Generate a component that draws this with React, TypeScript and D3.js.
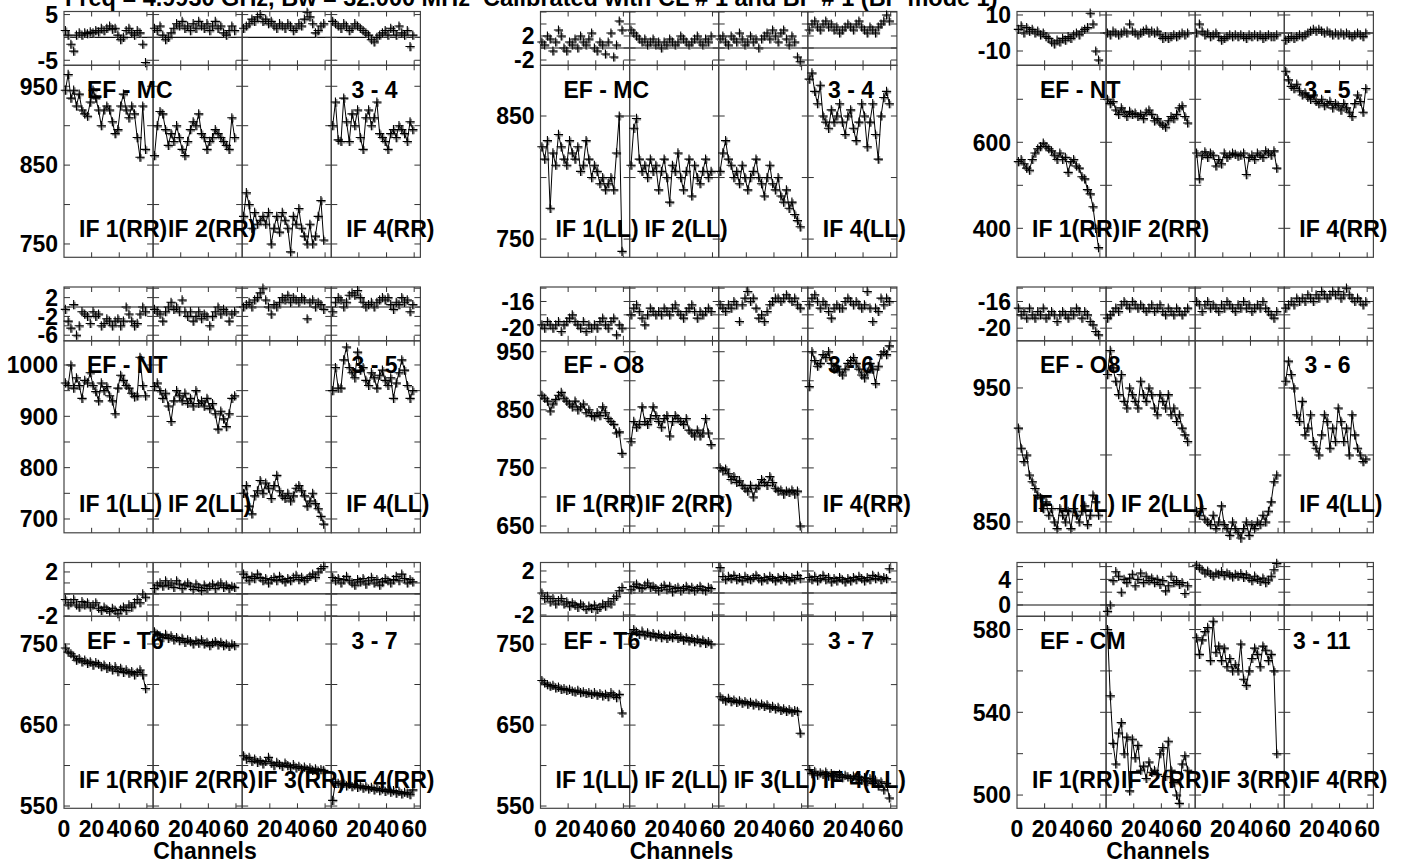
import React from "react";
import * as d3 from "d3";

const TITLE = "Freq = 4.9930 GHz, Bw = 32.000 MHz  Calibrated with CL # 1 and BP # 1 (BP mode 1)";
const CHANNELS = [1, 3, 5, 7, 9, 11, 13, 15, 17, 19, 21, 23, 25, 27, 29, 31, 33, 35, 37, 39, 41, 43, 45, 47, 49, 51, 53, 55, 57, 59];
const X_TICK_LABELS = [0, 20, 40, 60];

// ---- EF - MC (RR) ----
const MC_RR_PHASE = [
  [1.5, 0.5, -1.5, -3, 0.5, 1, 0.5, 1, 0.8, 1.2, 1, 1.5, 1.2, 2, 1.5, 2, 2.5, 1.8, 2, 0.5, -0.5, 0, 1.5, 2, 1, 0.5, 1.5, 1, -1.5, -5.5],
  [2, 1.5, 2.5, 0.5, -0.5, 0, 1, 2, 3, 2.5, 3.5, 2, 2.5, 1.5, 3, 2, 3.5, 2.5, 2, 3, 1.5, 2.5, 3.5, 2, 2.5, 1, 0.5, 1.5, 2.5, 1.5],
  [2, 2.5, 3, 4, 3.5, 4.5, 5, 3.5, 4, 3, 3.5, 2.5, 2, 3, 2.5, 2, 3, 2.5, 1.5, 2, 3, 2.5, 4, 5.5, 4.5, 3, 1, 1.5, 2.5, 3],
  [3.5, 3, 2.5, 2, 3, 2.5, 1.5, 2, 3, 2.5, 2, 1.5, 1, 0.5, -0.5, -1, 0, 0.5, 1, 1.5, 0.5, 2, 1.5, 0.5, 2.5, 1, 0.5, 1.5, -2, 0.5],
];
const MC_RR_AMP = [
  [945, 965, 935, 945, 925, 940, 920, 915, 912, 930, 945, 935, 920, 900, 920, 925, 920, 905, 890, 895, 925, 940, 920, 910, 925, 915, 885, 860, 925, 870],
  [862, 900, 918, 915, 895, 875, 890, 880, 900, 885, 870, 862, 880, 895, 905, 900, 915, 890, 885, 870, 880, 885, 895, 890, 885, 880, 875, 870, 910, 885],
  [785, 815, 800, 770, 790, 775, 780, 785, 775, 790, 750, 770, 785, 765, 790, 780, 770, 740, 785, 775, 795, 770, 760, 750, 775, 750, 760, 785, 805, 755],
  [900, 930, 882, 880, 935, 905, 880, 915, 900, 920, 885, 870, 910, 920, 900, 910, 930, 890, 885, 880, 870, 890, 895, 885, 900, 895, 890, 880, 905, 895],
];

// ---- EF - MC (LL) ----
const MC_LL_PHASE = [
  [1, 0.5, 2, 1.5, -0.5, 1, 3, 2, 0, -0.5, 1, 0.5, 1.5, 0, 2, 1, 0.5, 1.5, 2.5, 0, -0.5, 1, 0.5, -1, 1, 2.5, -1.5, 0.5, 4.5, 3],
  [3, 2.5, 2, 1.5, 1, 1.5, 0.5, 1, 1.5, 0.5, 1, 0, 1, 0.5, 1.5, 1, 0.5, 1, 2, 1.5, 1, 0.5, 1, 1.5, 2, 1, 0.5, 1.5, 1, 2],
  [1.5, 2, 1, 0.5, 2, 1.5, 1, 2.5, 1.5, 0.5, 1, 2, 1, 1.5, 0, 1.5, 2, 2.5, 1.5, 3, 2, 1, 2.5, 3, 1.5, 0.5, 2, 1, -1.5, -2.3],
  [3, 4, 4.5, 3.5, 3, 4, 4.5, 3.5, 4, 3, 3.5, 2.5, 3, 3.5, 4, 3.5, 3, 4, 4.5, 3.5, 3, 2.5, 3.5, 3, 2.5, 3.5, 4, 4.5, 5.5, 4.5],
];
const MC_LL_AMP = [
  [825, 815, 830, 775, 820, 810, 835, 825, 815, 810, 830, 820, 815, 825, 805, 810, 830, 815, 800, 810, 805, 795, 800, 790, 795, 800, 790, 820, 850, 740],
  [810, 840, 848, 815, 805, 810, 800, 815, 805, 810, 790, 805, 815, 800, 780, 810, 805, 820, 800, 790, 805, 815, 785, 810, 800, 795, 805, 815, 800, 805],
  [805, 820, 830, 815, 810, 800, 805, 795, 810, 800, 790, 800, 805, 815, 800, 795, 785, 800, 810, 795, 790, 800, 785, 780, 790, 775, 780, 770, 765, 760],
  [880, 885, 870, 860, 875, 850, 845, 840, 855, 845, 850, 860, 845, 835, 850, 855, 840, 830, 845, 860, 850, 825, 845, 860, 835, 815, 850, 865, 870, 860],
];

// ---- EF - NT (RR) ----
const NT_RR_PHASE = [
  [2, 4, 0, 3, 1, 2, 0, 1, -1, 0, -2, -3, -5, -6, -4, -5, -3, -4, -2, -3, -1, 0, -1, 1, 2, 3, 11, 5, -10, -15],
  [0, -1, 1, 0, -1, 0, 1, 0, 5, 1, 0, -1, 0, 1, 2, 0, 1, 0, 1, -1, -3, -2, -3, -2, -1, -2, -1, 0, -1, 0],
  [0, 5, 1, -1, 0, -2, -1, 0, -2, -4, -3, -2, -1, -2, -1, -2, -1, -2, -3, -1, -2, -1, -2, -1, -3, -2, -1, -2, -2, -1],
  [-4, -3, -2, -3, -2, -1, -2, -1, 0, 1, 2, 1, 2, 1, 0, 1, 0, -1, 0, -1, 0, -1, 0, -1, -2, -1, 0, -1, -2, 0],
];
const NT_RR_AMP = [
  [555, 560, 550, 540, 535, 560, 575, 585, 590, 598, 590, 585, 580, 570, 560, 575, 560, 565, 530, 555, 560, 545, 540, 520, 515, 490, 480, 450, 400, 355],
  [700, 690, 695, 675, 665, 680, 670, 660, 672, 665, 668, 660, 665, 655, 670, 675, 665, 650, 655, 645, 640, 635, 650, 660, 655, 665, 680, 685, 660, 645],
  [575, 515, 570, 578, 565, 575, 570, 545, 560, 550, 575, 565, 570, 575, 572, 568, 570, 575, 525, 565, 570, 560, 575, 570, 565, 580, 575, 570, 580, 540],
  [765, 745, 730, 725, 735, 720, 710, 715, 705, 700, 710, 695, 690, 700, 685, 690, 695, 680, 690, 685, 675, 690, 680, 670, 660, 690, 710, 695, 670, 725],
];

// ---- EF - NT (LL) ----
const NT_LL_PHASE = [
  [-0.5, -3, -4.5, 0.5, -6, -4, -1, -1.5, -2, -3.5, -1, -2, -1.5, -4, -3.5, -2.5, -3, -4, -3, -2.5, -4, -3, 0, -1.5, -3, -4, -3.5, -1.5, 0, -1],
  [-0.5, -1, -1.5, -3, -1, 0, 1, -0.5, 0, -1, 1.5, -1, -2, -1, -3, -2, -1, -2.5, -1.5, -2, -4, -2, -1, 0, -1.5, -0.5, -1, -3, -1.5, -1],
  [0, 0.5, 1, 0, 1.5, 2, 3, 4, 1.5, 0, -1.5, 0.5, 0, 1, 2, 1.5, 2.5, 1, 2, 1.5, 1, 2, 1.5, -2.5, 1, 1.5, 0, 1, 0.5, -0.5],
  [-1, 1, 2, 1.5, 0, 1, 2.5, 3, 2.5, 3.5, 2, 1, 0, 0.5, 1, 0, 1, 1.5, 2, 1.5, 2, 0.5, -0.5, 1, 0.5, 2, 1, 1.5, -1, 0.5],
];
const NT_LL_AMP = [
  [965, 960, 1000, 955, 975, 960, 935, 970, 965, 985, 960, 948, 930, 965, 950, 958, 940, 930, 905, 955, 980, 970, 960, 955, 945, 938, 940, 1015, 960, 940],
  [958, 965, 950, 935, 945, 920, 890, 930, 950, 940, 930, 945, 925, 935, 920, 950, 925, 930, 920, 935, 915, 925, 905, 875, 910, 895, 880, 905, 935, 940],
  [750, 765, 725, 710, 745, 755, 775, 750, 770, 760, 740, 765, 785, 755, 745, 740, 750, 735, 745, 760, 765, 755, 745, 725, 735, 750, 730, 720, 705, 690],
  [950, 995, 955, 955, 1010, 1035, 995, 985, 975, 1025, 990, 995, 970, 960, 985, 975, 955, 980, 990, 970, 960, 975, 935, 965, 985, 1010, 990, 960, 935, 950],
];

// ---- EF - O8 (RR) ----
const O8_RR_PHASE = [
  [-19.5, -20, -19, -19.5, -20, -19.5, -19, -20.5, -19.5, -19, -18.5, -18, -19, -19.5, -20, -19, -20.5, -19.5, -20, -19.5, -20, -19, -18.5, -19.5, -20, -19, -18.5, -21, -19.5, -20],
  [-18, -17, -16.5, -17.5, -18.5, -19.5, -18, -17, -17.5, -18, -17.5, -18, -17, -17.5, -18, -17, -16.5, -17.5, -18, -18.5, -17.5, -17, -16.5, -17.5, -18.5, -17.5, -18, -17.5, -17, -17.5],
  [-16.5, -17, -17.5, -16.5, -17, -16, -16.5, -19, -16.5, -15.5, -14.5, -16, -15.5, -17, -18.5, -18, -19, -17.5, -16.5, -16, -15.5, -15.5, -16, -15.5, -15, -15.5, -16, -15.5, -16.5, -17],
  [-16.5, -15.5, -15, -16, -17, -16, -16.5, -17.5, -18.5, -17, -16.5, -17, -17, -16, -15.5, -16, -16.5, -16, -16.5, -17, -16.5, -14.5, -17, -19, -17, -17.5, -15.5, -16.5, -15.5, -16],
];
const O8_RR_AMP = [
  [875, 870, 865, 848, 860, 868, 875, 880, 870, 865, 860, 855, 865, 850, 855, 860, 845, 850, 840, 838, 845, 840, 855, 845, 835, 830, 825, 810, 812, 775],
  [795, 830, 820, 825, 855, 830, 825, 835, 855, 840, 830, 820, 835, 840, 805, 830, 840, 835, 830, 825, 835, 815, 810, 805, 815, 805, 810, 835, 810, 790],
  [750, 745, 748, 740, 730, 735, 725, 728, 720, 715, 710, 720, 700, 715, 720, 730, 725, 720, 735, 725, 715, 710, 712, 705, 710, 708, 712, 705, 710, 650],
  [890, 950, 935, 925, 930, 945, 940, 950, 930, 920, 925, 915, 910, 920, 930, 935, 940, 930, 920, 910, 905, 915, 930, 920, 895, 925, 945, 950, 945, 960],
];

// ---- EF - O8 (LL) ----
const O8_LL_PHASE = [
  [-17, -18, -17.5, -18.5, -17, -18, -18.5, -17.5, -18, -17, -18.5, -18, -17.5, -18, -19, -18, -17.5, -18, -18.5, -17.5, -18, -17, -17.5, -18.5, -17.5, -18, -19, -19.5, -20.5, -21],
  [-18.5, -18, -17.5, -17, -17.5, -16.5, -16, -16.5, -17, -16, -16.5, -17, -16.5, -17, -17.5, -17, -16.5, -17.5, -17, -16.5, -17.5, -18, -17, -17.5, -18, -17, -17.5, -18, -17.5, -17],
  [-16, -16.5, -17.5, -16.5, -16, -17, -16.5, -17, -17.5, -16.5, -17, -16, -16.5, -17, -17.5, -16.5, -17, -16, -17, -16.5, -17.5, -17, -16.5, -17, -16, -17, -17.5, -18, -18.5, -17.5],
  [-17, -16.5, -16, -16.5, -15.5, -16, -15.5, -16, -15, -15.5, -16, -15, -15.5, -14.5, -15, -15.5, -15, -14.5, -15, -14.5, -15.5, -15, -14, -15, -15.5, -16, -15.5, -16, -16.5, -16],
];
const O8_LL_AMP = [
  [920, 905, 895, 900, 885, 880, 875, 870, 868, 860, 865, 855, 860, 850, 845, 860, 855, 850, 858, 845, 860, 855, 850, 858, 862, 848, 855, 870, 865, 855],
  [960, 978, 965, 955, 945, 960, 940, 935, 950, 945, 940, 935, 955, 945, 940, 950, 945, 935, 930, 945, 940, 935, 945, 930, 935, 925, 930, 920, 915, 910],
  [858, 855, 860, 852, 850, 848, 855, 845, 850, 862, 848, 845, 840, 850, 845, 842, 838, 845, 850, 840, 848, 845, 850, 848, 855, 850, 858, 865, 880, 885],
  [955, 970, 960, 950, 930, 925, 940, 915, 920, 930, 910, 905, 900, 915, 930, 925, 905, 920, 910, 935, 925, 910, 920, 900, 930, 915, 905, 900, 895, 897],
];

// ---- EF - T6 (RR) ----
const T6_RR_PHASE = [
  [-0.5, -1, -0.8, -0.5, -1, -1.2, -0.7, -1, -0.8, -1.2, -1, -0.8, -1.3, -1.5, -1.2, -1.4, -1.6, -1.3, -1.5, -1.8, -1.4, -1.2, -1.5, -1, -1.2, -0.8, -0.5, -0.8, 0, -0.3],
  [0.5, 0.8, 1, 0.7, 1.2, 0.8, 1, 0.6, 1.2, 0.9, 0.5, 0.8, 1, 0.7, 0.4, 0.9, 0.6, 0.3, 0.8, 0.5, 0.7, 0.9, 0.5, 0.8, 1, 0.6, 0.8, 0.5, 0.7, 0.6],
  [1.8, 1.5, 1.2, 1.6, 1.4, 1.8, 1.5, 1.2, 1.4, 1, 1.3, 1.5, 1.2, 1.6, 1.3, 1.1, 1.4, 1.2, 1.5, 1.7, 1.3, 1.5, 1.2, 1.4, 1.6, 1.8, 1.5, 2, 2.3, 2.5],
  [1.5, 1.2, 1.4, 1, 1.3, 1.6, 1.2, 1, 0.8, 1.3, 1.1, 1.4, 0.9, 1.2, 1.5, 1, 1.3, 0.8, 1.1, 1.4, 1.2, 1, 1.3, 1.6, 1.2, 1.8, 1.4, 1, 1.3, 1.1],
];
const T6_RR_AMP = [
  [745, 740, 738, 735, 730, 732, 728, 730, 726, 728, 724, 727, 725, 722, 724, 720, 722, 718, 722, 716, 720, 715, 718, 714, 716, 712, 715, 718, 712, 695],
  [765, 762, 760, 758, 762, 757, 760, 755, 758, 754, 757, 752, 755, 753, 750, 754, 751, 755, 750, 752, 748, 751, 753, 749, 752, 748, 750, 747, 750, 748],
  [612, 608, 610, 605, 608, 604, 606, 602, 605, 610, 603, 600, 604, 601, 599, 603, 600, 598, 601, 597, 599, 596, 598, 595, 597, 594, 596, 593, 595, 594],
  [557, 580, 578, 576, 578, 575, 577, 574, 576, 573, 575, 572, 574, 571, 573, 570, 572, 569, 571, 568, 570, 567, 569, 566, 568, 565, 567, 566, 564, 570],
];

// ---- EF - T6 (LL) ----
const T6_LL_PHASE = [
  [0, -0.5, -0.3, -0.8, -0.5, -1, -0.7, -0.5, -1, -0.8, -1.2, -0.9, -1.1, -1.3, -1, -1.2, -1.5, -1.2, -1.4, -1.1, -1.5, -1.3, -1, -1.2, -0.8, -1, -0.5, -0.3, 0.2, 0.5],
  [0.3, 0.6, 0.8, 0.5, 0.4, 0.7, 0.9, 0.5, 0.6, 0.4, 0.2, 0.5, 0.7, 0.3, 0.6, 0.1, 0.4, 0.5, 0.2, 0.4, 0.6, 0.3, 0.5, 0.2, 0.4, 0.6, 0.3, 0.2, 0.5, 0.4],
  [2.3, 1.5, 1.2, 1.5, 1.3, 1.6, 1.2, 1.4, 1.1, 1.5, 1.3, 1.2, 1.4, 1.6, 1.3, 1.1, 1.4, 1.2, 1.5, 1.3, 1.1, 1.4, 1.2, 1.5, 1.3, 1.1, 1.4, 1.2, 1.6, 1.3],
  [1.4, 1.2, 1.5, 1.1, 1.3, 1.6, 1.2, 1.4, 1, 1.3, 1.1, 1.4, 1.2, 1, 1.3, 1.1, 1.4, 1.2, 1.5, 1.3, 1.1, 1.4, 1.2, 1.6, 1.3, 1.5, 1.2, 1.4, 1.3, 2.2],
];
const T6_LL_AMP = [
  [705, 702, 700, 698, 699, 696, 697, 694, 695, 693, 694, 692, 691, 693, 690, 691, 689, 690, 688, 690, 687, 689, 686, 688, 685, 690, 687, 684, 688, 665],
  [763, 768, 765, 762, 766, 761, 764, 760, 763, 759, 762, 758, 761, 757, 760, 758, 762, 757, 759, 755, 758, 754, 757, 753, 756, 752, 755, 751, 753, 750],
  [685, 682, 680, 683, 679, 681, 678, 680, 677, 679, 676, 678, 675, 677, 674, 676, 673, 675, 671, 673, 670, 672, 668, 670, 667, 669, 666, 668, 667, 640],
  [595, 590, 593, 588, 591, 589, 592, 587, 590, 588, 586, 589, 585, 588, 586, 584, 587, 583, 586, 582, 585, 580, 584, 578, 582, 575, 580, 570, 578, 560],
];

// ---- EF - CM (RR) ----
const CM_RR_PHASE = [
  null,
  [-1, 0, 3.8, 5.2, 4.5, 2, 4, 3.5, 4.2, 4.8, 3, 4, 5, 3.5, 4.5, 3.8, 4.2, 3.5, 4, 3.2, 3.8, 2.2, 3, 4.5, 3.5, 3.8, 3.2, 3.5, 1.8, 3],
  [6.2, 5.8, 5.5, 5, 5.3, 4.8, 4.5, 5, 4.8, 5.2, 4.6, 5, 4.7, 4.4, 4.8, 4.5, 4.9, 4.3, 4.7, 4.2, 3.8, 4.5, 4, 3.7, 4.2, 3.5, 3.9, 4.5, 5.5, 6.5],
  null,
];
const CM_RR_AMP = [
  null,
  [580, 548, 525, 515, 530, 535, 520, 528, 502, 527, 518, 524, 512, 514, 508, 516, 511, 512, 510, 520, 523, 509, 526, 512, 506, 500, 496, 515, 519, 512],
  [576, 568, 575, 579, 581, 565, 584, 569, 572, 565, 571, 562, 566, 560, 563, 560, 573, 556, 553, 560, 566, 571, 568, 562, 572, 570, 565, 568, 560, 520],
  null,
];

type Series = (number[] | null)[];
interface Group {
  baseline: string;
  pair: string;
  pol: string;
  ifLabels: number[];
  phase: Series;
  amp: Series;
  phaseDomain: [number, number];
  phaseLabels: number[];
  phaseStep: number;
  ampDomain: [number, number];
  ampLabels: number[];
  ampStep: number;
}

const GROUPS: Group[] = [
  { baseline: "EF - MC", pair: "3 - 4", pol: "RR", ifLabels: [1, 2, 4], phase: MC_RR_PHASE, amp: MC_RR_AMP,
    phaseDomain: [-6.1, 5.67], phaseLabels: [5, -5], phaseStep: 5, ampDomain: [733.1, 976.6], ampLabels: [750, 850, 950], ampStep: 50 },
  { baseline: "EF - MC", pair: "3 - 4", pol: "LL", ifLabels: [1, 2, 4], phase: MC_LL_PHASE, amp: MC_LL_AMP,
    phaseDomain: [-2.88, 6.08], phaseLabels: [2, -2], phaseStep: 2, ampDomain: [735.2, 891.2], ampLabels: [750, 850], ampStep: 50 },
  { baseline: "EF - NT", pair: "3 - 5", pol: "RR", ifLabels: [1, 2, 4], phase: NT_RR_PHASE, amp: NT_RR_AMP,
    phaseDomain: [-17.94, 11.94], phaseLabels: [10, -10], phaseStep: 10, ampDomain: [332.6, 779], ampLabels: [400, 600], ampStep: 100 },
  { baseline: "EF - NT", pair: "3 - 5", pol: "LL", ifLabels: [1, 2, 4], phase: NT_LL_PHASE, amp: NT_LL_AMP,
    phaseDomain: [-7.19, 4.26], phaseLabels: [2, -2, -6], phaseStep: 2, ampDomain: [673.1, 1047.1], ampLabels: [700, 800, 900, 1000], ampStep: 50 },
  { baseline: "EF - O8", pair: "3 - 6", pol: "RR", ifLabels: [1, 2, 4], phase: O8_RR_PHASE, amp: O8_RR_AMP,
    phaseDomain: [-21.89, -13.83], phaseLabels: [-16, -20], phaseStep: 2, ampDomain: [638.3, 968.8], ampLabels: [650, 750, 850, 950], ampStep: 50 },
  { baseline: "EF - O8", pair: "3 - 6", pol: "LL", ifLabels: [1, 2, 4], phase: O8_LL_PHASE, amp: O8_LL_AMP,
    phaseDomain: [-21.89, -13.83], phaseLabels: [-16, -20], phaseStep: 2, ampDomain: [841.9, 985.2], ampLabels: [850, 950], ampStep: 50 },
  { baseline: "EF - T6", pair: "3 - 7", pol: "RR", ifLabels: [1, 2, 3, 4], phase: T6_RR_PHASE, amp: T6_RR_AMP,
    phaseDomain: [-2.03, 2.86], phaseLabels: [2, -2], phaseStep: 1, ampDomain: [547.2, 784.2], ampLabels: [550, 650, 750], ampStep: 50 },
  { baseline: "EF - T6", pair: "3 - 7", pol: "LL", ifLabels: [1, 2, 3, 4], phase: T6_LL_PHASE, amp: T6_LL_AMP,
    phaseDomain: [-2.12, 2.77], phaseLabels: [2, -2], phaseStep: 1, ampDomain: [547.2, 784.4], ampLabels: [550, 650, 750], ampStep: 50 },
  { baseline: "EF - CM", pair: "3 - 11", pol: "RR", ifLabels: [1, 2, 3, 4], phase: CM_RR_PHASE, amp: CM_RR_AMP,
    phaseDomain: [-1.77, 6.64], phaseLabels: [4, 0], phaseStep: 2, ampDomain: [493.6, 586.4], ampLabels: [500, 540, 580], ampStep: 20 },
];

// ---- layout ----
const COL_LEFT = [64, 540.5, 1017];
const ROW_TOP = [11.5, 287, 562.5];
const IF_W = 89.1;
const PHASE_H = 53.8;
const AMP_H = 192;
const FONT = "'Liberation Sans', Arial, Helvetica, sans-serif";
const FS = 23;
const X_DOMAIN: [number, number] = [0, 64.5];

function crossPath(x: number, y: number, h: number) {
  return `M${x - h},${y}H${x + h}M${x},${y - h}V${y + h}`;
}

function Marks({ data, xs, ys, line }: { data: number[]; xs: d3.ScaleLinear<number, number>; ys: d3.ScaleLinear<number, number>; line: boolean }) {
  const pts: [number, number][] = data.map((v, i) => [xs(CHANNELS[i]), ys(v)]);
  const lineGen = d3.line<[number, number]>().x((d) => d[0]).y((d) => d[1]);
  const shadow = pts.map(([x, y]) => crossPath(x + 0.8, y + 0.8, 3.8)).join("");
  const crosses = pts.map(([x, y]) => crossPath(x, y, 4.6)).join("");
  return (
    <g>
      <path d={shadow} stroke="#8c8c8c" strokeWidth={2.4} fill="none" />
      {line && <path d={lineGen(pts) || ""} stroke="#000" strokeWidth={1} fill="none" />}
      <path d={crosses} stroke="#000" strokeWidth={1.1} fill="none" />
    </g>
  );
}

function Panel({ left, top, height, domain, step, labels, series, line, zeroLine }: {
  left: number; top: number; height: number; domain: [number, number]; step: number; labels: number[];
  series: Series; line: boolean; zeroLine: boolean;
}) {
  const ys = d3.scaleLinear().domain(domain).range([top + height, top]);
  const ticks = d3.range(Math.ceil(domain[0] / step) * step, domain[1] + 1e-9, step);
  const xTicks = [20, 40, 60];
  const total = IF_W * 4;
  return (
    <g>
      {zeroLine && domain[0] < 0 && domain[1] > 0 && (
        <line x1={left} x2={left + total} y1={ys(0)} y2={ys(0)} stroke="#111" strokeWidth={1.2} />
      )}
      {[0, 1, 2, 3].map((k) => {
        const x0 = left + k * IF_W;
        const xs = d3.scaleLinear().domain(X_DOMAIN).range([x0, x0 + IF_W]);
        const s = series[k];
        return (
          <g key={k}>
            <rect x={x0} y={top} width={IF_W} height={height} fill="none" stroke="#444" strokeWidth={1.2} />
            {ticks.map((t) => (
              <g key={t}>
                <line x1={x0} x2={x0 + 6} y1={ys(t)} y2={ys(t)} stroke="#333" />
                <line x1={x0 + IF_W - 6} x2={x0 + IF_W} y1={ys(t)} y2={ys(t)} stroke="#333" />
              </g>
            ))}
            {xTicks.map((t) => (
              <g key={t}>
                <line x1={xs(t)} x2={xs(t)} y1={top} y2={top + 5} stroke="#333" />
                <line x1={xs(t)} x2={xs(t)} y1={top + height - 5} y2={top + height} stroke="#333" />
              </g>
            ))}
            {s && <Marks data={s} xs={xs} ys={ys} line={line} />}
          </g>
        );
      })}
      {labels.map((t) => (
        <text key={t} x={left - 6} y={ys(t)} dy="0.36em" textAnchor="end" fontFamily={FONT} fontWeight="bold" fontSize={FS}>
          {t}
        </text>
      ))}
    </g>
  );
}

export default function App() {
  return (
    <svg width={1407} height={865} style={{ position: "absolute", left: 0, top: 0, background: "#fff" }}>
      <rect width={1407} height={865} fill="#fff" />
      <text x={65} y={6} fontFamily={FONT} fontWeight="bold" fontSize={23.5} style={{ whiteSpace: "pre" }}>
        {TITLE}
      </text>
      {GROUPS.map((g, gi) => {
        const col = gi % 3;
        const row = Math.floor(gi / 3);
        const left = COL_LEFT[col];
        const pTop = ROW_TOP[row];
        const aTop = pTop + PHASE_H;
        const aBot = aTop + AMP_H;
        return (
          <g key={gi}>
            <Panel left={left} top={pTop} height={PHASE_H} domain={g.phaseDomain} step={g.phaseStep} labels={g.phaseLabels}
              series={g.phase} line={false} zeroLine={true} />
            <Panel left={left} top={aTop} height={AMP_H} domain={g.ampDomain} step={g.ampStep} labels={g.ampLabels}
              series={g.amp} line={true} zeroLine={false} />
            <text x={left + 23} y={aTop + 32.5} fontFamily={FONT} fontWeight="bold" fontSize={FS}>{g.baseline}</text>
            <text x={left + 333.5} y={aTop + 32.5} textAnchor="end" fontFamily={FONT} fontWeight="bold" fontSize={FS}>{g.pair}</text>
            {g.ifLabels.map((n) => (
              <text key={n} x={left + (n - 1) * IF_W + 15} y={aBot - 20.5} fontFamily={FONT} fontWeight="bold" fontSize={FS}>
                {`IF ${n}(${g.pol})`}
              </text>
            ))}
            {row === 2 && (
              <g>
                {[0, 1, 2, 3].map((k) => {
                  const xs = d3.scaleLinear().domain(X_DOMAIN).range([left + k * IF_W, left + (k + 1) * IF_W]);
                  return X_TICK_LABELS.map((t) => (
                    <text key={`${k}-${t}`} x={xs(t)} y={837} textAnchor="middle" fontFamily={FONT} fontWeight="bold" fontSize={FS}>
                      {t}
                    </text>
                  ));
                })}
                <text x={left + 141} y={859} textAnchor="middle" fontFamily={FONT} fontWeight="bold" fontSize={FS}>Channels</text>
              </g>
            )}
          </g>
        );
      })}
    </svg>
  );
}
